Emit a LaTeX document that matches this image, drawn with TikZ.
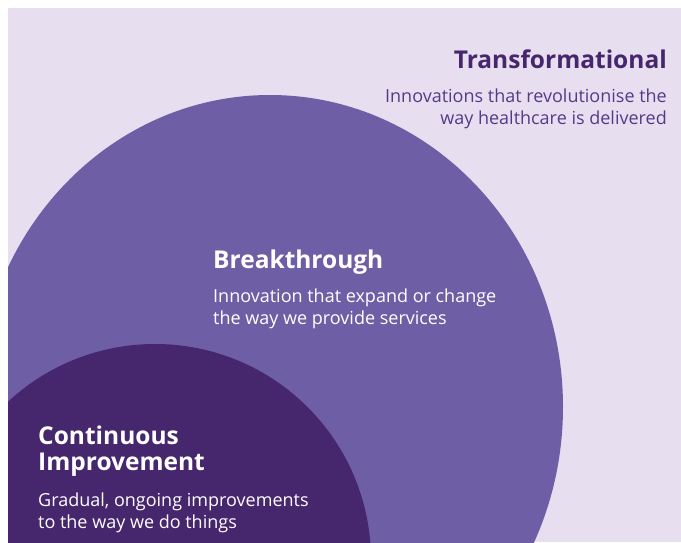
\documentclass[tikz,border=0pt]{standalone}
\usepackage{fontspec}
\setmainfont{Open Sans}
\definecolor{lavender}{HTML}{E7DFF0}
\definecolor{midpurple}{HTML}{6E5EA6}
\definecolor{darkpurple}{HTML}{46266C}
\definecolor{textpurple}{HTML}{553A8A}
\tikzset{
  heading/.style={inner sep=0pt, font=\fontsize{24.5}{30}\selectfont\bfseries},
  blurb/.style={inner sep=0pt, font=\fontsize{18}{22}\selectfont},
}

\begin{document}
\begin{tikzpicture}[x=1pt,y=-1pt]
    \useasboundingbox (0,0) rectangle (681,542);
    \fill[white] (0,0) rectangle (681,542);
    \fill[lavender] (8,8) rectangle (681,542);
    \begin{scope}
        \clip (8,8) rectangle (681,542);
        \fill[midpurple] (270,407) ellipse [x radius=293, y radius=312];
        \fill[darkpurple] (155,560) circle [radius=216];
    \end{scope}
    \node[heading, text=darkpurple, anchor=base east] (trans) at (667,68) {Transformational};
    \node[blurb, text=textpurple, anchor=base east] (trans1) at (667,102) {Innovations that revolutionise the};
    \node[blurb, text=textpurple, anchor=base east] (trans2) at (667,124) {way healthcare is delivered};
    \node[heading, text=white, anchor=base west] (break) at (213,268) {Breakthrough};
    \node[blurb, text=white, anchor=base west] (break1) at (213,302) {Innovation that expand or change};
    \node[blurb, text=white, anchor=base west] (break2) at (213,324) {the way we provide services};
    \node[heading, text=white, anchor=base west] (cont1) at (38,444) {Continuous};
    \node[heading, text=white, anchor=base west] (cont2) at (38,470) {Improvement};
    \node[blurb, text=white, anchor=base west] (cont3) at (38,506) {Gradual, ongoing improvements};
    \node[blurb, text=white, anchor=base west] (cont4) at (38,528) {to the way we do things};
\end{tikzpicture}
\end{document}
